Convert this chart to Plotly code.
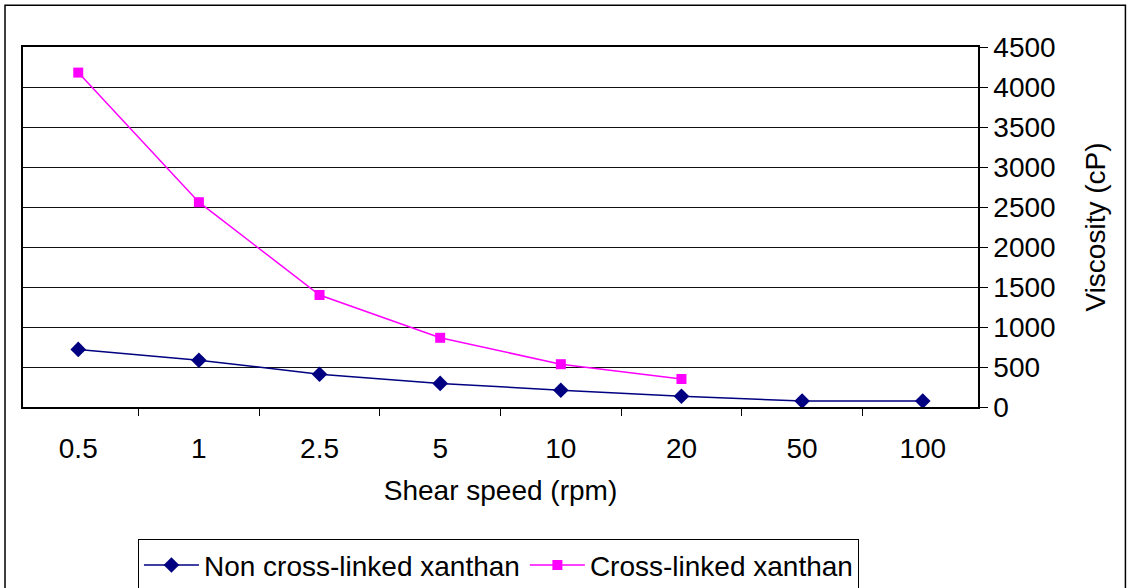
import plotly.graph_objects as go

categories = ["0.5", "1", "2.5", "5", "10", "20", "50", "100"]
non_cross = [720, 585, 410, 295, 210, 135, 75, 75]
cross = [4180, 2560, 1400, 865, 535, 350, None, None]
y_ticks = [0, 500, 1000, 1500, 2000, 2500, 3000, 3500, 4000, 4500]

W, H = 1128, 588
L, R, T, B = 23, 978.5, 46.7, 406.7
pw, ph = R - L, B - T

def px(x):
    return (x - L) / pw

def py(y):
    return (B - y) / ph

FONT = "Liberation Sans, Arial, sans-serif"

fig = go.Figure()
fig.add_trace(go.Scatter(
    x=categories, y=non_cross, name="Non cross-linked xanthan",
    mode="lines+markers",
    line=dict(color="#000080", width=1.5),
    marker=dict(symbol="diamond", size=12, color="#000080"),
))
fig.add_trace(go.Scatter(
    x=categories, y=cross, name="Cross-linked xanthan",
    mode="lines+markers",
    line=dict(color="#FF00FF", width=1.5),
    marker=dict(symbol="square", size=10, color="#FF00FF"),
))

fig.update_layout(
    width=W, height=H,
    margin=dict(l=L, r=W - R, t=T, b=H - B, autoexpand=False),
    paper_bgcolor="white", plot_bgcolor="white",
    font=dict(family=FONT, size=28, color="black"),
    showlegend=True,
    legend=dict(
        orientation="h", x=px(138), y=py(539), xanchor="left", yanchor="top",
        bordercolor="black", borderwidth=1, font=dict(size=28),
        itemwidth=55, tracegroupgap=0,
    ),
    xaxis=dict(
        type="category", showgrid=False, showline=True, mirror=True,
        linecolor="black", linewidth=1.5,
        ticks="outside", tickson="boundaries", ticklen=7, tickcolor="black",
        ticklabelstandoff=16,
        title=dict(text="Shear speed (rpm)", standoff=17, font=dict(size=28)),
        automargin=False,
    ),
    yaxis=dict(
        side="right", range=[0, 4500], tickvals=y_ticks,
        showgrid=True, gridcolor="#111111", gridwidth=1,
        showline=True, mirror=True, linecolor="black", linewidth=1.5,
        ticks="outside", ticklen=8, tickcolor="black",
        ticklabelstandoff=0,
        title=dict(text="Viscosity (cP)", standoff=31, font=dict(size=28)),
        zeroline=False, automargin=False,
    ),
    shapes=[dict(
        type="rect", xref="paper", yref="paper",
        x0=px(5), x1=px(1126), y0=py(600), y1=py(5),
        line=dict(color="black", width=1.5), fillcolor="rgba(0,0,0,0)", layer="below",
    )],
)

fig.write_html("out.html", config={"displayModeBar": False},
               post_script="document.body.style.margin='0';")
